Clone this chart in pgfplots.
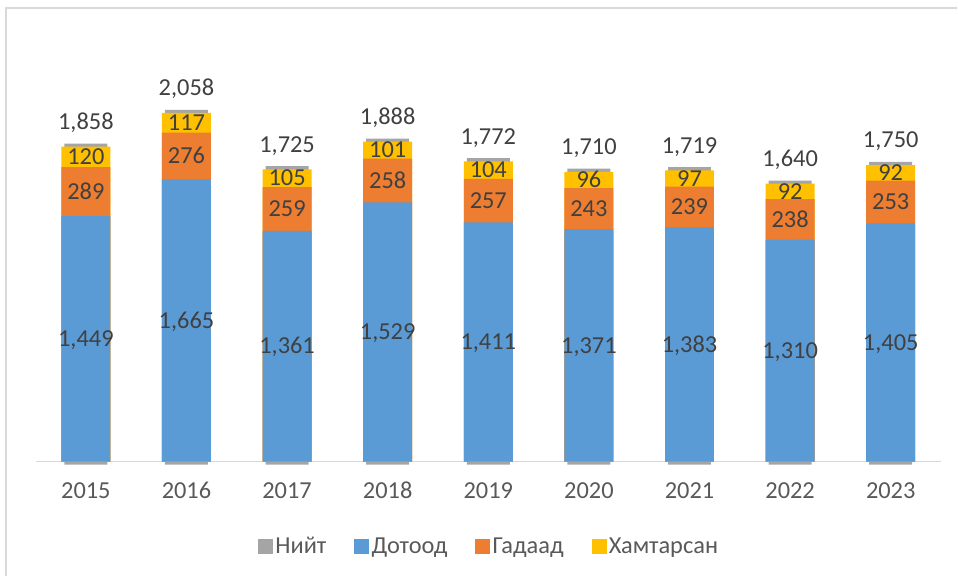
\documentclass[border=0pt]{standalone}
\usepackage{pgfplots}
\pgfplotsset{compat=1.18}
\usepackage{pgfplotstable}
\usepackage{fontspec}
\setmainfont{Carlito}
\definecolor{cblue}{HTML}{5B9BD5}
\definecolor{corange}{HTML}{ED7D31}
\definecolor{cyellow}{HTML}{FFC000}
\definecolor{cgray}{HTML}{A5A5A5}
\definecolor{labgray}{HTML}{404040}
\definecolor{tickgray}{HTML}{595959}
\definecolor{linegray}{HTML}{D9D9D9}
\newcommand\lab{\fontsize{18.3}{22}\selectfont}
\pgfplotstableread{
x d g h t
0 1449 289 120 1858
1 1665 276 117 2058
2 1361 259 105 1725
3 1529 258 101 1888
4 1411 257 104 1772
5 1371 243 96 1710
6 1383 239 97 1719
7 1310 238 92 1640
8 1405 253 92 1750
}\data
\begin{document}
\begin{tikzpicture}
\begin{axis}[
  scale only axis, width=679.8pt, height=318pt,
  xmin=-0.5, xmax=8.5, ymin=0, ymax=2500,
  clip=false,
  axis y line=none,
  axis x line*=bottom,
  x axis line style={-, draw=linegray, line width=1.2pt},
  xtick={0,...,8},
  xticklabels={2015,2016,2017,2018,2019,2020,2021,2022,2023},
  major tick length=0pt,
  xticklabel style={text=tickgray, font=\lab, text height=11.6pt, text depth=0pt, yshift=-12.5pt},
  /pgf/number format/.cd, 1000 sep={,}, assume math mode=true, /pgfplots/.cd,
  legend columns=4,
  legend style={draw=none, fill=none, font=\lab, text=tickgray,
    at={(rel axis cs:0.5013,-0.2005)}, anchor=center,
    /tikz/every even column/.append style={column sep=19pt}},
  legend image code/.code={\fill[#1] (0pt,-5pt) rectangle (10.5pt,5.5pt);},
  nodes near coords style={anchor=center, text=labgray, font=\lab, text height=11.6pt, text depth=0pt},
]
% frame (top and left edges of the chart area)
\path (rel axis cs:-0.03928,1.08962) rectangle (rel axis cs:1.01765,-0.27123);
\draw[linegray, line width=1.5pt] (rel axis cs:-0.03266,-0.27123) -- (rel axis cs:-0.03266,1.0708) -- (rel axis cs:1.01765,1.0708);

% bars (overlapping, cumulative heights)
\addplot[ybar, bar width=32.25pt, bar shift=0pt, fill=cgray, draw=none, forget plot]
  table[x=x, y expr=\thisrow{t}+18] {\data};
\addplot[ybar, bar width=36.75pt, bar shift=0pt, fill=cyellow, draw=none, forget plot]
  table[x=x, y expr=\thisrow{d}+\thisrow{g}+\thisrow{h}] {\data};
\addplot[ybar, bar width=36.75pt, bar shift=0pt, fill=corange, draw=none, forget plot]
  table[x=x, y expr=\thisrow{d}+\thisrow{g}] {\data};
\addplot[ybar, bar width=36.75pt, bar shift=0pt, fill=cblue, draw=none, forget plot]
  table[x=x, y=d] {\data};
\addplot[ybar, bar width=32.25pt, bar shift=0pt, fill=cgray, draw=none, forget plot]
  table[x=x, y expr=-18] {\data};

% labels
\addplot[draw=none, mark=none, nodes near coords, point meta=explicit, forget plot]
  table[x=x, y expr=\thisrow{d}/2, meta=d] {\data};
\addplot[draw=none, mark=none, nodes near coords, point meta=explicit, forget plot]
  table[x=x, y expr=\thisrow{d}+\thisrow{g}/2, meta=g] {\data};
\addplot[draw=none, mark=none, nodes near coords, point meta=explicit, forget plot]
  table[x=x, y expr=\thisrow{d}+\thisrow{g}+\thisrow{h}/2, meta=h] {\data};
\addplot[draw=none, mark=none, nodes near coords, point meta=explicit, forget plot,
  nodes near coords style={yshift=18.75pt}]
  table[x=x, y=t, meta=t] {\data};

\addlegendimage{cgray}\addlegendentry{Нийт}
\addlegendimage{cblue}\addlegendentry{Дотоод}
\addlegendimage{corange}\addlegendentry{Гадаад}
\addlegendimage{cyellow}\addlegendentry{Хамтарсан}
\end{axis}
\end{tikzpicture}
\end{document}
